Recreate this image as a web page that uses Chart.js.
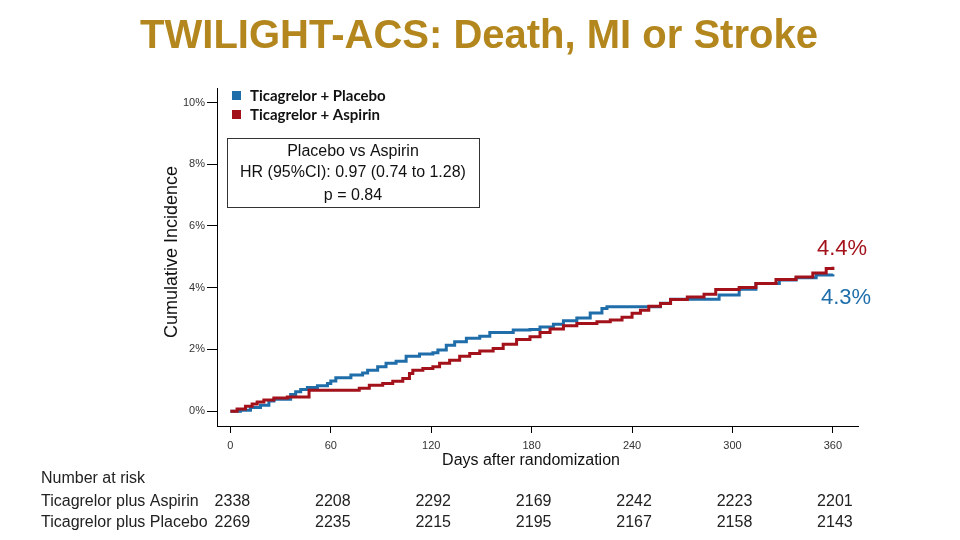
<!DOCTYPE html>
<html>
<head>
<meta charset="utf-8">
<title>TWILIGHT-ACS</title>
<script src="https://cdn.jsdelivr.net/npm/chart.js@4.4.1/dist/chart.umd.min.js"></script>
<style>
  html, body { margin: 0; padding: 0; background: #fff; }
  #wrap { width: 960px; height: 540px; }
</style>
</head>
<body>
<div id="wrap"><canvas id="kmChart" width="960" height="540"></canvas></div>
<script>
// chart text
const chartTitle = "TWILIGHT-ACS: Death, MI or Stroke";
const yTitle = "Cumulative Incidence";
const xTitle = "Days after randomization";
const seriesNames = ["Ticagrelor + Aspirin", "Ticagrelor + Placebo"];
const hrLines = ["Placebo vs Aspirin", "HR (95%CI): 0.97 (0.74 to 1.28)", "p = 0.84"];
const endLabels = ["4.4%", "4.3%"];

// axis ticks
const xTicks = [0, 60, 120, 180, 240, 300, 360];
const yTicks = [0, 2, 4, 6, 8, 10];

// Ticagrelor + Aspirin (red), days and cumulative %
const aspirinDays = [0, 4, 9, 13, 16, 20, 26, 34, 47, 77, 83, 91, 97, 103, 107, 109, 115, 121, 125, 131, 137, 143, 149, 157, 163, 171, 179, 185, 191, 199, 207, 219, 227, 234, 240, 245, 250, 257, 263, 273, 283, 290, 304, 314, 326, 338, 348, 356, 360];
const aspirinPct  = [0, 0.07, 0.16, 0.23, 0.30, 0.36, 0.43, 0.46, 0.68, 0.74, 0.84, 0.90, 0.97, 1.06, 1.22, 1.33, 1.38, 1.44, 1.55, 1.65, 1.78, 1.87, 1.95, 2.03, 2.17, 2.32, 2.41, 2.55, 2.66, 2.77, 2.84, 2.90, 2.95, 3.04, 3.17, 3.27, 3.40, 3.49, 3.62, 3.70, 3.79, 3.94, 4.01, 4.14, 4.27, 4.35, 4.48, 4.62, 4.68];

// Ticagrelor + Placebo (blue)
const placeboDays = [0, 6, 12, 18, 23, 26, 36, 39, 42, 46, 52, 58, 60, 63, 72, 79, 82, 88, 93, 99, 105, 113, 121, 124, 129, 134, 141, 149, 155, 169, 179, 185, 193, 199, 207, 215, 222, 225, 257, 263, 292, 304, 314, 328, 338, 350, 360];
const placeboPct  = [0, 0.03, 0.12, 0.19, 0.33, 0.39, 0.54, 0.63, 0.70, 0.77, 0.82, 0.90, 0.98, 1.08, 1.17, 1.24, 1.33, 1.44, 1.55, 1.62, 1.78, 1.85, 1.89, 1.98, 2.14, 2.25, 2.36, 2.43, 2.55, 2.63, 2.65, 2.73, 2.82, 2.93, 3.02, 3.18, 3.33, 3.38, 3.50, 3.63, 3.76, 3.95, 4.14, 4.25, 4.32, 4.41, 4.44];

// number at risk
const riskLabels = ["Ticagrelor plus Aspirin", "Ticagrelor plus Placebo"];
const riskAspirin = [2338, 2208, 2292, 2169, 2242, 2223, 2201];
const riskPlacebo = [2269, 2235, 2215, 2195, 2167, 2158, 2143];

const red = "#a3121a";
const blue = "#1f6eaa";
const gold = "#b3871d";
const font = "'Liberation Sans', Arial, sans-serif";

function toPoints(days, pct) {
  return days.map((d, i) => ({ x: d, y: pct[i] }));
}

// Function: draw titles, legend, HR box and risk table on top
const overlay = {
  id: 'overlay',
  afterDraw(chart) {
    const ctx = chart.ctx;
    const xs = chart.scales.x;
    ctx.save();

    ctx.fillStyle = gold;
    ctx.font = "bold 40px " + font;
    ctx.textAlign = "center";
    ctx.textBaseline = "middle";
    ctx.fillText(chartTitle, 479, 37);

    // axis titles
    ctx.fillStyle = "#111";
    ctx.font = "18px " + font;
    ctx.save();
    ctx.translate(172, 252);
    ctx.rotate(-Math.PI / 2);
    ctx.fillText(yTitle, 0, 0);
    ctx.restore();
    ctx.font = "16px " + font;
    ctx.fillText(xTitle, 531, 461);

    // legend
    ctx.textAlign = "left";
    ctx.font = "bold 15px Lato, sans-serif";
    ctx.fillStyle = blue;
    ctx.fillRect(232, 91, 9, 9);
    ctx.fillStyle = red;
    ctx.fillRect(232, 110, 9, 9);
    ctx.fillStyle = "#111";
    ctx.fillText(seriesNames[1], 250, 96);
    ctx.fillText(seriesNames[0], 250, 115);

    // HR box
    ctx.strokeStyle = "#333";
    ctx.lineWidth = 1;
    ctx.strokeRect(227.5, 138.5, 252, 69);
    ctx.textAlign = "center";
    ctx.font = "16px " + font;
    ctx.fillText(hrLines[0], 353, 152);
    ctx.fillText(hrLines[1], 353, 173);
    ctx.fillText(hrLines[2], 353, 196);

    // end labels
    ctx.font = "22px " + font;
    ctx.fillStyle = red;
    ctx.fillText(endLabels[0], 842, 249);
    ctx.fillStyle = blue;
    ctx.fillText(endLabels[1], 846, 298);

    // number at risk
    ctx.fillStyle = "#222";
    ctx.font = "16px " + font;
    ctx.textAlign = "left";
    ctx.fillText("Number at risk", 41, 479);
    ctx.fillText(riskLabels[0], 41, 502);
    ctx.fillText(riskLabels[1], 41, 523);
    ctx.textAlign = "center";
    xTicks.forEach((d, i) => {
      const px = xs.getPixelForValue(d) + 2;
      ctx.fillText(String(riskAspirin[i]), px, 502);
      ctx.fillText(String(riskPlacebo[i]), px, 523);
    });
    ctx.restore();
  }
};

const ctx = document.getElementById("kmChart").getContext("2d");
const kmChart = new Chart(ctx, {
  type: "line",
  data: {
    datasets: [{
      label: seriesNames[0],
      data: toPoints(aspirinDays, aspirinPct),
      borderColor: red,
      borderWidth: 3,
      pointRadius: 0,
      stepped: true,
      fill: false
    }, {
      label: seriesNames[1],
      data: toPoints(placeboDays, placeboPct),
      borderColor: blue,
      borderWidth: 3,
      pointRadius: 0,
      stepped: true,
      fill: false
    }]
  },
  options: {
    responsive: false,
    animation: false,
    devicePixelRatio: 1,
    layout: { padding: { top: 88, right: 102, left: 0, bottom: 0 } },
    plugins: {
      legend: { display: false },
      tooltip: { enabled: false }
    },
    scales: {
      x: {
        type: "linear",
        min: -8,
        max: 375,
        afterBuildTicks: s => { s.ticks = xTicks.map(v => ({ value: v })); },
        afterFit: s => { s.height = 114; },
        grid: { drawOnChartArea: false, drawTicks: true, tickLength: 7, color: "#000" },
        border: { display: true, color: "#000", width: 1 },
        ticks: { color: "#333", font: { family: font, size: 11 }, padding: 6, maxRotation: 0 }
      },
      y: {
        type: "linear",
        min: -0.48,
        max: 10.47,
        afterBuildTicks: s => { s.ticks = yTicks.map(v => ({ value: v })); },
        afterFit: s => { s.width = 217; },
        grid: { drawOnChartArea: false, drawTicks: true, tickLength: 10, color: "#000" },
        border: { display: true, color: "#000", width: 1 },
        ticks: { color: "#333", font: { family: font, size: 11 }, padding: 2, callback: v => v + "%" }
      }
    }
  },
  plugins: [overlay]
});
</script>
</body>
</html>
